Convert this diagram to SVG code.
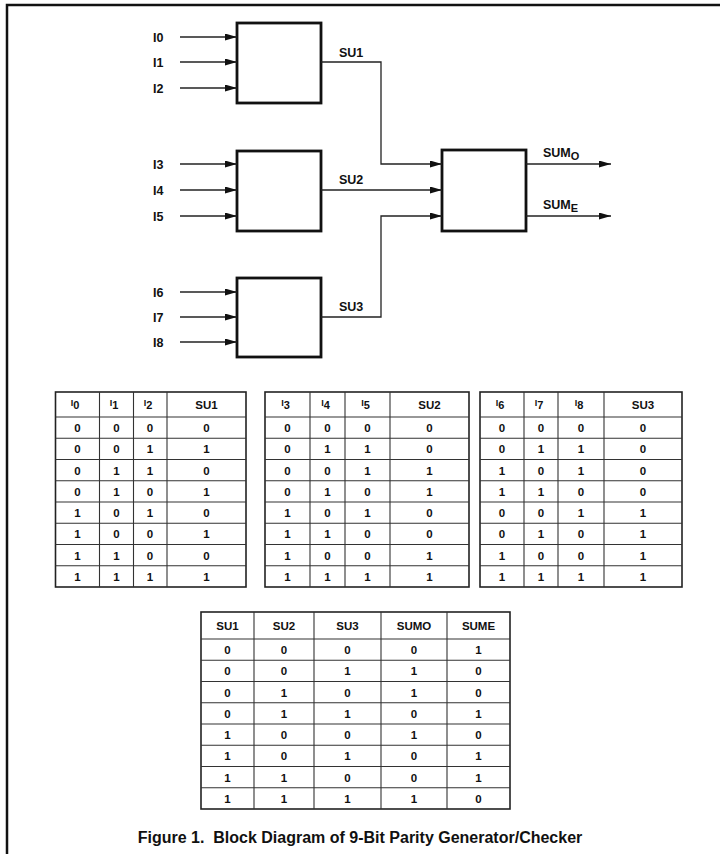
<svg xmlns="http://www.w3.org/2000/svg" width="720" height="854" viewBox="0 0 720 854">
<style>
.frame{stroke:#111;stroke-width:2.5;fill:none}
.blk{fill:#fff;stroke:#111;stroke-width:2.8}
.wire{fill:none;stroke:#222;stroke-width:1.3}
.lbl{font-family:"Liberation Sans",Arial,sans-serif;font-size:12.5px;font-weight:bold;fill:#111}
.tb{fill:none;stroke:#222;stroke-width:1.6}
.tl{stroke:#333;stroke-width:1.1}
.tt{font-family:"Liberation Sans",Arial,sans-serif;font-size:11.5px;font-weight:bold;fill:#111;text-anchor:middle}
.cap{font-family:"Liberation Sans",Arial,sans-serif;font-size:16px;font-weight:bold;fill:#111;text-anchor:middle;white-space:pre}
</style>
<defs>
<marker id="ah" viewBox="0 0 12 7" refX="12" refY="3.5" markerWidth="12" markerHeight="7" markerUnits="userSpaceOnUse" orient="auto">
<path d="M0,0 L12,3.5 L0,7 z" fill="#111"/>
</marker>
</defs>
<rect width="720" height="854" fill="#fff"/>
<path class="frame" d="M7,854 V5 H720"/>

<g id="block1">
<rect class="blk" x="237" y="23" width="84" height="80"/>
<text class="lbl" x="153" y="41.5">I0</text>
<text class="lbl" x="153" y="66.5">I1</text>
<text class="lbl" x="153" y="92.5">I2</text>
</g>
<g id="block2">
<rect class="blk" x="237" y="151" width="84" height="80"/>
<text class="lbl" x="153" y="168.5">I3</text>
<text class="lbl" x="153" y="194.5">I4</text>
<text class="lbl" x="153" y="220.5">I5</text>
</g>
<g id="block3">
<rect class="blk" x="237" y="278" width="84" height="79"/>
<text class="lbl" x="153" y="296.5">I6</text>
<text class="lbl" x="153" y="321.5">I7</text>
<text class="lbl" x="153" y="346.5">I8</text>
</g>
<g id="block4">
<rect class="blk" x="442" y="150" width="84" height="81"/>
</g>

<g id="connectors">
<path class="wire" marker-end="url(#ah)" d="M180,37 H237"/>
<path class="wire" marker-end="url(#ah)" d="M180,62 H237"/>
<path class="wire" marker-end="url(#ah)" d="M180,88 H237"/>
<path class="wire" marker-end="url(#ah)" d="M180,164 H237"/>
<path class="wire" marker-end="url(#ah)" d="M180,190 H237"/>
<path class="wire" marker-end="url(#ah)" d="M180,216 H237"/>
<path class="wire" marker-end="url(#ah)" d="M180,292 H237"/>
<path class="wire" marker-end="url(#ah)" d="M180,317 H237"/>
<path class="wire" marker-end="url(#ah)" d="M180,342 H237"/>
<path class="wire" marker-end="url(#ah)" d="M321,62 H381 V164 H442"/>
<path class="wire" marker-end="url(#ah)" d="M321,190 H442"/>
<path class="wire" marker-end="url(#ah)" d="M321,317 H381 V216 H442"/>
<path class="wire" marker-end="url(#ah)" d="M526,164 H611"/>
<path class="wire" marker-end="url(#ah)" d="M526,216 H611"/>
<text class="lbl" x="339" y="57">SU1</text>
<text class="lbl" x="339" y="184">SU2</text>
<text class="lbl" x="339" y="311">SU3</text>
<text class="lbl" x="543" y="157">SUM<tspan font-size="11" dy="3">O</tspan></text>
<text class="lbl" x="543" y="209">SUM<tspan font-size="11" dy="3">E</tspan></text>
</g>

<g id="table1">
<rect class="tb" x="55.5" y="392" width="190.5" height="195"/>
<path class="tl" d="M99.5,392V587M133.5,392V587M167,392V587M55.5,417H246M55.5,438.25H246M55.5,459.5H246M55.5,480.75H246M55.5,502H246M55.5,523.25H246M55.5,544.5H246M55.5,565.75H246"/>
<text class="tt" y="408"><tspan x="75" font-size="9" dy="-2">I</tspan><tspan font-size="11" dy="3">0</tspan></text>
<text class="tt" y="408"><tspan x="114" font-size="9" dy="-2">I</tspan><tspan font-size="11" dy="3">1</tspan></text>
<text class="tt" y="408"><tspan x="148" font-size="9" dy="-2">I</tspan><tspan font-size="11" dy="3">2</tspan></text>
<text class="tt" x="206.5" y="409">SU1</text>
<text class="tt" y="432"><tspan x="77.5">0</tspan><tspan x="116.5">0</tspan><tspan x="150">0</tspan><tspan x="206.5">0</tspan></text>
<text class="tt" y="453.25"><tspan x="77.5">0</tspan><tspan x="116.5">0</tspan><tspan x="150">1</tspan><tspan x="206.5">1</tspan></text>
<text class="tt" y="474.5"><tspan x="77.5">0</tspan><tspan x="116.5">1</tspan><tspan x="150">1</tspan><tspan x="206.5">0</tspan></text>
<text class="tt" y="495.75"><tspan x="77.5">0</tspan><tspan x="116.5">1</tspan><tspan x="150">0</tspan><tspan x="206.5">1</tspan></text>
<text class="tt" y="517"><tspan x="77.5">1</tspan><tspan x="116.5">0</tspan><tspan x="150">1</tspan><tspan x="206.5">0</tspan></text>
<text class="tt" y="538.25"><tspan x="77.5">1</tspan><tspan x="116.5">0</tspan><tspan x="150">0</tspan><tspan x="206.5">1</tspan></text>
<text class="tt" y="559.5"><tspan x="77.5">1</tspan><tspan x="116.5">1</tspan><tspan x="150">0</tspan><tspan x="206.5">0</tspan></text>
<text class="tt" y="580.75"><tspan x="77.5">1</tspan><tspan x="116.5">1</tspan><tspan x="150">1</tspan><tspan x="206.5">1</tspan></text>
</g>

<g id="table2">
<rect class="tb" x="265" y="392" width="204" height="195"/>
<path class="tl" d="M310,392V587M345,392V587M390,392V587M265,417H469M265,438.25H469M265,459.5H469M265,480.75H469M265,502H469M265,523.25H469M265,544.5H469M265,565.75H469"/>
<text class="tt" y="408"><tspan x="285.5" font-size="9" dy="-2">I</tspan><tspan font-size="11" dy="3">3</tspan></text>
<text class="tt" y="408"><tspan x="325.5" font-size="9" dy="-2">I</tspan><tspan font-size="11" dy="3">4</tspan></text>
<text class="tt" y="408"><tspan x="365.5" font-size="9" dy="-2">I</tspan><tspan font-size="11" dy="3">5</tspan></text>
<text class="tt" x="429.5" y="409">SU2</text>
<text class="tt" y="432"><tspan x="287.5">0</tspan><tspan x="327.5">0</tspan><tspan x="367.5">0</tspan><tspan x="429.5">0</tspan></text>
<text class="tt" y="453.25"><tspan x="287.5">0</tspan><tspan x="327.5">1</tspan><tspan x="367.5">1</tspan><tspan x="429.5">0</tspan></text>
<text class="tt" y="474.5"><tspan x="287.5">0</tspan><tspan x="327.5">0</tspan><tspan x="367.5">1</tspan><tspan x="429.5">1</tspan></text>
<text class="tt" y="495.75"><tspan x="287.5">0</tspan><tspan x="327.5">1</tspan><tspan x="367.5">0</tspan><tspan x="429.5">1</tspan></text>
<text class="tt" y="517"><tspan x="287.5">1</tspan><tspan x="327.5">0</tspan><tspan x="367.5">1</tspan><tspan x="429.5">0</tspan></text>
<text class="tt" y="538.25"><tspan x="287.5">1</tspan><tspan x="327.5">1</tspan><tspan x="367.5">0</tspan><tspan x="429.5">0</tspan></text>
<text class="tt" y="559.5"><tspan x="287.5">1</tspan><tspan x="327.5">0</tspan><tspan x="367.5">0</tspan><tspan x="429.5">1</tspan></text>
<text class="tt" y="580.75"><tspan x="287.5">1</tspan><tspan x="327.5">1</tspan><tspan x="367.5">1</tspan><tspan x="429.5">1</tspan></text>
</g>

<g id="table3">
<rect class="tb" x="480" y="392" width="202" height="195"/>
<path class="tl" d="M524,392V587M558,392V587M604,392V587M480,417H682M480,438.25H682M480,459.5H682M480,480.75H682M480,502H682M480,523.25H682M480,544.5H682M480,565.75H682"/>
<text class="tt" y="408"><tspan x="500" font-size="9" dy="-2">I</tspan><tspan font-size="11" dy="3">6</tspan></text>
<text class="tt" y="408"><tspan x="539" font-size="9" dy="-2">I</tspan><tspan font-size="11" dy="3">7</tspan></text>
<text class="tt" y="408"><tspan x="579" font-size="9" dy="-2">I</tspan><tspan font-size="11" dy="3">8</tspan></text>
<text class="tt" x="643" y="409">SU3</text>
<text class="tt" y="432"><tspan x="502">0</tspan><tspan x="541">0</tspan><tspan x="581">0</tspan><tspan x="643">0</tspan></text>
<text class="tt" y="453.25"><tspan x="502">0</tspan><tspan x="541">1</tspan><tspan x="581">1</tspan><tspan x="643">0</tspan></text>
<text class="tt" y="474.5"><tspan x="502">1</tspan><tspan x="541">0</tspan><tspan x="581">1</tspan><tspan x="643">0</tspan></text>
<text class="tt" y="495.75"><tspan x="502">1</tspan><tspan x="541">1</tspan><tspan x="581">0</tspan><tspan x="643">0</tspan></text>
<text class="tt" y="517"><tspan x="502">0</tspan><tspan x="541">0</tspan><tspan x="581">1</tspan><tspan x="643">1</tspan></text>
<text class="tt" y="538.25"><tspan x="502">0</tspan><tspan x="541">1</tspan><tspan x="581">0</tspan><tspan x="643">1</tspan></text>
<text class="tt" y="559.5"><tspan x="502">1</tspan><tspan x="541">0</tspan><tspan x="581">0</tspan><tspan x="643">1</tspan></text>
<text class="tt" y="580.75"><tspan x="502">1</tspan><tspan x="541">1</tspan><tspan x="581">1</tspan><tspan x="643">1</tspan></text>
</g>

<g id="table4">
<rect class="tb" x="201" y="612" width="309" height="197"/>
<path class="tl" d="M254,612V809M314,612V809M381,612V809M447,612V809M201,639H510M201,660.25H510M201,681.5H510M201,702.75H510M201,724H510M201,745.25H510M201,766.5H510M201,787.75H510"/>
<text class="tt" y="629.5"><tspan x="227.5">SU1</tspan><tspan x="284">SU2</tspan><tspan x="347.5">SU3</tspan><tspan x="414">SUMO</tspan><tspan x="478.5">SUME</tspan></text>
<text class="tt" y="654"><tspan x="227.5">0</tspan><tspan x="284">0</tspan><tspan x="347.5">0</tspan><tspan x="414">0</tspan><tspan x="478.5">1</tspan></text>
<text class="tt" y="675.25"><tspan x="227.5">0</tspan><tspan x="284">0</tspan><tspan x="347.5">1</tspan><tspan x="414">1</tspan><tspan x="478.5">0</tspan></text>
<text class="tt" y="696.5"><tspan x="227.5">0</tspan><tspan x="284">1</tspan><tspan x="347.5">0</tspan><tspan x="414">1</tspan><tspan x="478.5">0</tspan></text>
<text class="tt" y="717.75"><tspan x="227.5">0</tspan><tspan x="284">1</tspan><tspan x="347.5">1</tspan><tspan x="414">0</tspan><tspan x="478.5">1</tspan></text>
<text class="tt" y="739"><tspan x="227.5">1</tspan><tspan x="284">0</tspan><tspan x="347.5">0</tspan><tspan x="414">1</tspan><tspan x="478.5">0</tspan></text>
<text class="tt" y="760.25"><tspan x="227.5">1</tspan><tspan x="284">0</tspan><tspan x="347.5">1</tspan><tspan x="414">0</tspan><tspan x="478.5">1</tspan></text>
<text class="tt" y="781.5"><tspan x="227.5">1</tspan><tspan x="284">1</tspan><tspan x="347.5">0</tspan><tspan x="414">0</tspan><tspan x="478.5">1</tspan></text>
<text class="tt" y="802.75"><tspan x="227.5">1</tspan><tspan x="284">1</tspan><tspan x="347.5">1</tspan><tspan x="414">1</tspan><tspan x="478.5">0</tspan></text>
</g>

<text class="cap" x="360" y="843" xml:space="preserve">Figure 1.  Block Diagram of 9-Bit Parity Generator/Checker</text>
</svg>
